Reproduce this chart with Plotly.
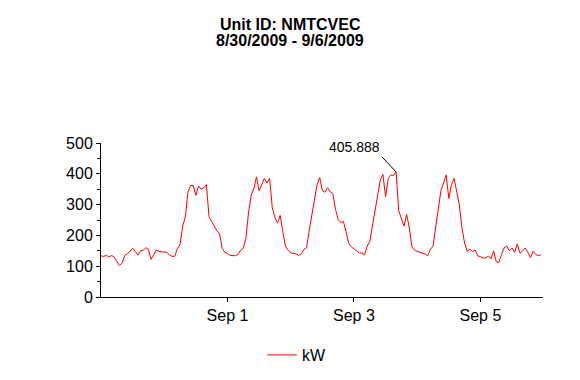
import numpy as np
import pandas as pd
import plotly.graph_objects as go

start_time = "2009-08-30 00:00"
kw_values = [
    133, 132, 135, 130, 135, 130, 115, 102, 110, 135, 140, 150, 158, 148, 136, 150, 152, 160, 155, 122, 140, 153, 148, 147,
    147, 145, 136, 132, 132, 158, 170, 230, 260, 340, 362, 362, 330, 360, 350, 355, 365, 261, 245, 228, 215, 205, 158, 145,
    142, 135, 135, 134, 138, 152, 158, 190, 275, 330, 352, 390, 345, 368, 385, 370, 385, 290, 258, 240, 265, 212, 165, 152,
    143, 142, 140, 135, 140, 155, 160, 215, 270, 310, 365, 388, 345, 340, 355, 341, 335, 285, 252, 242, 245, 212, 174, 163,
    155, 150, 143, 143, 137, 165, 180, 228, 289, 330, 380, 398, 325, 385, 396, 395, 405.888, 280, 252, 230, 268, 225, 163, 152,
    148, 145, 143, 140, 134, 155, 165, 228, 294, 345, 370, 396, 320, 365, 385, 345, 300, 223, 175, 148, 155, 148, 152, 134,
    130, 127, 126, 133, 124, 150, 115, 112, 138, 160, 165, 150, 159, 145, 172, 142, 150, 159, 145, 128, 148, 138, 134, 137,
]
times = pd.date_range(start_time, periods=len(kw_values), freq="h")
x_tick_dates = ["2009-09-01", "2009-09-03", "2009-09-05"]
x_tick_labels = ["Sep 1", "Sep 3", "Sep 5"]
title_line1 = "Unit ID: NMTCVEC"
title_line2 = "8/30/2009 - 9/6/2009"
series_name = "kW"

FONT = "Liberation Sans, Arial, sans-serif"
W, H = 580, 380

fig = go.Figure()
fig.add_trace(go.Scatter(x=times, y=kw_values, mode="lines", name=series_name,
                         line=dict(color="#ff0000", width=1)))

imax = int(np.argmax(kw_values))
fig.add_annotation(x=times[imax], y=kw_values[imax], text=f"{kw_values[imax]:g}",
                   showarrow=True, arrowhead=0, arrowwidth=1, arrowcolor="black",
                   ax=-14, ay=-15, xanchor="right", yanchor="bottom",
                   font=dict(family=FONT, size=14, color="black"))

fig.add_annotation(xref="paper", yref="paper", x=(290 - 101) / 442, y=1 + (143 - 24) / 154,
                   text=f"<b>{title_line1}</b>", showarrow=False,
                   font=dict(family=FONT, size=16, color="black"), xanchor="center", yanchor="middle")
fig.add_annotation(xref="paper", yref="paper", x=(290 - 101) / 442, y=1 + (143 - 41) / 154,
                   text=f"<b>{title_line2}</b>", showarrow=False,
                   font=dict(family=FONT, size=16, color="black"), xanchor="center", yanchor="middle")

fig.update_layout(
    width=W, height=H,
    margin=dict(l=101, r=37, t=143, b=83),
    paper_bgcolor="white", plot_bgcolor="white",
    font=dict(family=FONT, size=16, color="black"),
    showlegend=True,
    legend=dict(orientation="h", xref="container", yref="container",
                x=262 / W, xanchor="left", y=1 - 355 / H, yanchor="middle",
                font=dict(size=16), bgcolor="rgba(0,0,0,0)"),
    xaxis=dict(range=["2009-08-30 00:00", "2009-09-05 23:45"], showgrid=False, zeroline=False,
               showline=True, linecolor="black", linewidth=1, automargin=False,
               ticks="outside", ticklen=4, tickcolor="black",
               tickmode="array", tickvals=x_tick_dates, ticktext=x_tick_labels,
               tickfont=dict(size=16)),
    yaxis=dict(range=[0, 500], showgrid=False, zeroline=False,
               showline=True, linecolor="black", linewidth=1, automargin=False,
               ticks="outside", ticklen=4, tickcolor="black", dtick=100,
               minor=dict(dtick=50, ticks="outside", ticklen=3, tickcolor="black"),
               tickfont=dict(size=16)),
)

fig.write_html("out.html", config={"displayModeBar": False},
               post_script="document.body.style.margin='0';document.body.style.padding='0';")
